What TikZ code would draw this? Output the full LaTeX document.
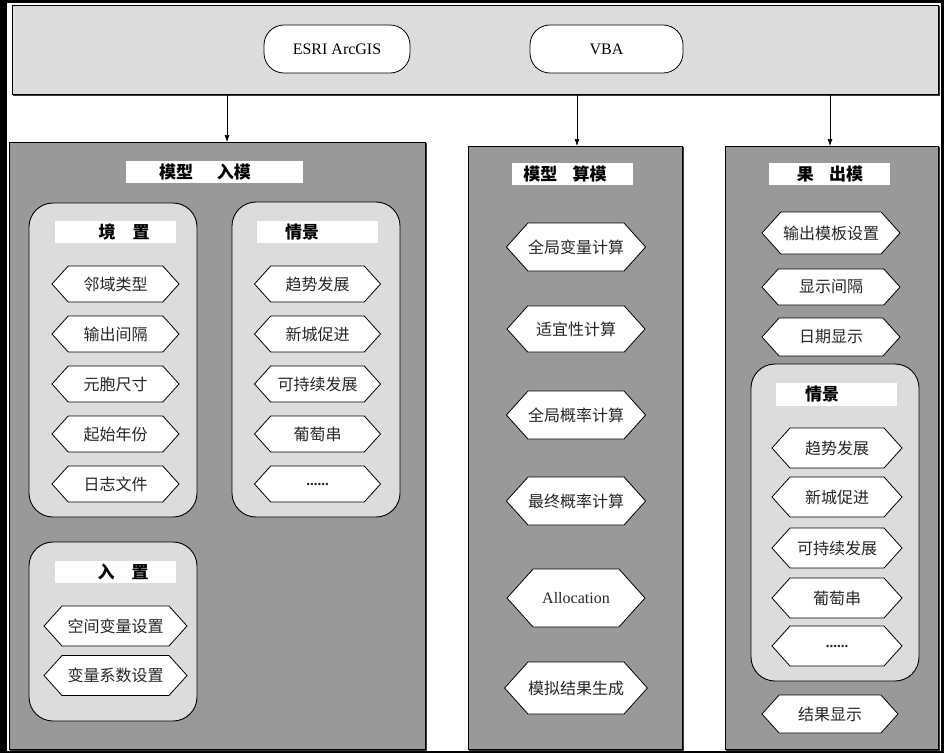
\documentclass[tikz,border=0pt]{standalone}
\usepackage{fontspec}
\setmainfont{Liberation Serif}
\newfontfamily\cjk{Noto Sans CJK SC}
\usetikzlibrary{shapes.symbols,arrows.meta}
\definecolor{lightbg}{HTML}{DCDCDC}
\definecolor{panelbg}{HTML}{999999}
\definecolor{shadowc}{HTML}{3A3A3A}
\tikzset{
  shadowed/.style={preaction={draw=shadowc, line width=1.2pt, fill=none, transform canvas={shift={(1.2pt,-1.2pt)}}}},
  topbox/.style={shadowed, draw=black, fill=lightbg, line width=0.9pt, inner sep=0pt},
  panel/.style={shadowed, draw=black, fill=panelbg, line width=0.9pt, inner sep=0pt},
  subbox/.style={draw=black, fill=lightbg, line width=0.9pt, rounded corners=24pt, inner sep=0pt},
  pill/.style={draw=black, fill=white, line width=0.8pt, rounded corners=20pt, inner sep=0pt, font=\fontsize{16}{16}\selectfont},
  titlebar/.style={fill=white, draw=none, inner sep=0pt},
  titletext/.style={inner sep=0pt, font=\cjk\bfseries\fontsize{17}{17}\selectfont},
  hexbox/.style={signal, signal to=west and east, signal pointer angle=96, draw=black, fill=white, line width=0.8pt, inner sep=0pt, text=black!85, font=\cjk\fontsize{16}{16}\selectfont},
  arr/.style={-{Latex[length=7pt,width=5pt]}, line width=0.6pt}
}
\begin{document}
\begin{tikzpicture}[x=1pt,y=-1pt]
\useasboundingbox (0,0) rectangle (944,753);
\fill[black] (0,0) rectangle (944,753);
\fill[white] (7,3) rectangle (941,751);

% top platform box
\node[topbox, minimum width=926pt, minimum height=89pt] (top) at (475,49.5) {};
\node[pill, minimum width=146pt, minimum height=48pt] (esri) at (337,49) {ESRI ArcGIS};
\node[pill, minimum width=153pt, minimum height=48pt] (vba) at (606.5,49) {VBA};

% panels
\node[panel, minimum width=416pt, minimum height=607pt] (lp) at (217,445.5) {};
\node[panel, minimum width=214pt, minimum height=603pt] (mp) at (575,447.5) {};
\node[panel, minimum width=213pt, minimum height=603pt] (rp) at (831.5,447.5) {};

% arrows
\coordinate (a1) at (227,142);
\coordinate (a2) at (577,146);
\coordinate (a3) at (830,146);
\draw[arr] (top.south -| a1) -- (a1);
\draw[arr] (top.south -| a2) -- (a2);
\draw[arr] (top.south -| a3) -- (a3);

% panel titles
\node[titlebar, minimum width=177pt, minimum height=22pt] (lt) at (214.5,172) {};
\node[titletext] (ltt) at (205,172) {模型\hspace{1.4em}入模};
\node[titlebar, minimum width=121pt, minimum height=22pt] (mt) at (572.5,174) {};
\node[titletext] (mtt) at (565,174) {模型\hspace{0.9em}算模};
\node[titlebar, minimum width=121pt, minimum height=22pt] (rt) at (829.5,174) {};
\node[titletext] (rtt) at (830,174) {果\hspace{0.9em}出模};

% left panel sub boxes
\node[subbox, minimum width=168pt, minimum height=314pt] (env) at (113,360) {};
\node[subbox, minimum width=168pt, minimum height=315pt] (scl) at (316,359.5) {};
\node[subbox, minimum width=168pt, minimum height=179pt] (inp) at (113,631.5) {};

\node[titlebar, minimum width=121pt, minimum height=22pt] (envt) at (115.5,232) {};
\node[titletext] (envtt) at (124,232) {境\hspace{1em}置};
\node[titlebar, minimum width=121pt, minimum height=22pt] (sclt) at (317.5,232) {};
\node[titletext] (scltt) at (302,232) {情景};
\node[titlebar, minimum width=121pt, minimum height=22pt] (inpt) at (115.5,572) {};
\node[titletext] (inptt) at (123,572) {入\hspace{1em}置};

% environment hexagons
\node[hexbox, minimum width=127pt, minimum height=36pt] (e1) at (115.5,284) {邻域类型};
\node[hexbox, minimum width=127pt, minimum height=36pt] (e2) at (115.5,334) {输出间隔};
\node[hexbox, minimum width=127pt, minimum height=36pt] (e3) at (115.5,384) {元胞尺寸};
\node[hexbox, minimum width=127pt, minimum height=36pt] (e4) at (115.5,434) {起始年份};
\node[hexbox, minimum width=127pt, minimum height=36pt] (e5) at (115.5,484) {日志文件};

% scenario hexagons (left)
\node[hexbox, minimum width=126pt, minimum height=36pt] (s1) at (317.5,284) {趋势发展};
\node[hexbox, minimum width=126pt, minimum height=36pt] (s2) at (317.5,334) {新城促进};
\node[hexbox, minimum width=126pt, minimum height=36pt] (s3) at (317.5,384) {可持续发展};
\node[hexbox, minimum width=126pt, minimum height=36pt] (s4) at (317.5,434) {葡萄串};
\node[hexbox, minimum width=126pt, minimum height=36pt, font=\bfseries\fontsize{15}{15}\selectfont] (s5) at (317.5,484) {......};

% input hexagons
\node[hexbox, minimum width=143pt, minimum height=40pt] (i1) at (115.5,626) {空间变量设置};
\node[hexbox, minimum width=143pt, minimum height=40pt] (i2) at (115.5,675.5) {变量系数设置};

% middle hexagons
\node[hexbox, minimum width=138pt, minimum height=48pt] (m1) at (576,247) {全局变量计算};
\node[hexbox, minimum width=138pt, minimum height=46pt] (m2) at (576,329) {适宜性计算};
\node[hexbox, minimum width=138pt, minimum height=48pt] (m3) at (576,415) {全局概率计算};
\node[hexbox, minimum width=138pt, minimum height=48pt] (m4) at (576,501) {最终概率计算};
\node[hexbox, minimum width=138pt, minimum height=58pt, font=\fontsize{16}{16}\selectfont] (m5) at (576,598) {Allocation};
\node[hexbox, minimum width=138pt, minimum height=52pt] (m6) at (576,688) {模拟结果生成};

% right panel
\node[hexbox, minimum width=138pt, minimum height=42pt] (r1) at (831,233) {输出模板设置};
\node[hexbox, minimum width=138pt, minimum height=36pt] (r2) at (831,287) {显示间隔};
\node[hexbox, minimum width=138pt, minimum height=38pt] (r3) at (831,337) {日期显示};

\node[subbox, minimum width=168pt, minimum height=317pt] (scr) at (835,522.5) {};
\node[titlebar, minimum width=121pt, minimum height=23pt] (scrt) at (836.5,394.5) {};
\node[titletext] (scrtt) at (822,394.5) {情景};

\node[hexbox, minimum width=130pt, minimum height=40pt] (t1) at (837,448) {趋势发展};
\node[hexbox, minimum width=130pt, minimum height=40pt] (t2) at (837,497) {新城促进};
\node[hexbox, minimum width=130pt, minimum height=40pt] (t3) at (837,548) {可持续发展};
\node[hexbox, minimum width=130pt, minimum height=40pt] (t4) at (837,598) {葡萄串};
\node[hexbox, minimum width=130pt, minimum height=40pt, font=\bfseries\fontsize{15}{15}\selectfont] (t5) at (837,646) {......};

\node[hexbox, minimum width=136pt, minimum height=38pt] (r4) at (830,714) {结果显示};
\end{tikzpicture}
\end{document}
